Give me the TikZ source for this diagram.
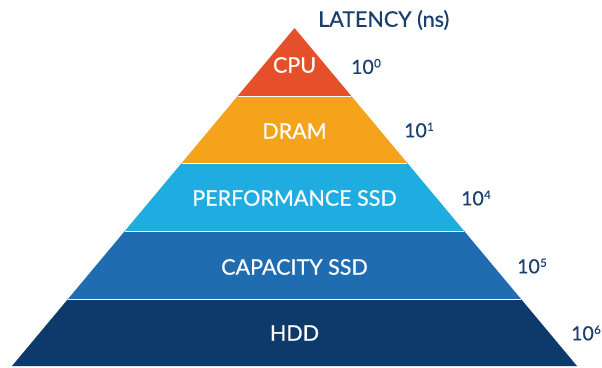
\documentclass[tikz,border=0pt]{standalone}
\usepackage{fontspec}
\setmainfont{Lato}
\newfontfamily\medfont{Lato}[FakeBold=0.5]
\definecolor{cpuC}{HTML}{E5502A}
\definecolor{dramC}{HTML}{F4A31A}
\definecolor{perfC}{HTML}{1FADE1}
\definecolor{capC}{HTML}{1F6CB0}
\definecolor{hddC}{HTML}{0E3A6B}
\definecolor{navy}{HTML}{1A3E6E}
\newcommand{\tenpow}[1]{10\kern0.3pt\raisebox{6.5pt}{\fontsize{11.5}{12}\selectfont #1}}
\begin{document}
\begin{tikzpicture}[x=1pt,y=-1pt,
  band/.style={white, font=\medfont\fontsize{21.5}{24}\selectfont, inner sep=0pt},
  lat/.style={navy, font=\medfont\fontsize{21.5}{24}\selectfont, inner sep=0pt, anchor=west},
  num/.style={navy, font=\medfont\fontsize{19.5}{22}\selectfont, inner sep=0pt, anchor=west},
  sep/.style={white, line width=0.6pt}]
\useasboundingbox (0,0) rectangle (602,367);
% apex (294.5,28), base y=366 from x=12 to 577
\def\ax{294.5}
\def\ay{28}
\def\sl{0.8358}
\pgfmathsetmacro{\la}{\ax-\sl*(96-\ay)}\pgfmathsetmacro{\ra}{\ax+\sl*(96-\ay)}
\pgfmathsetmacro{\lb}{\ax-\sl*(163-\ay)}\pgfmathsetmacro{\rb}{\ax+\sl*(163-\ay)}
\pgfmathsetmacro{\lc}{\ax-\sl*(231-\ay)}\pgfmathsetmacro{\rc}{\ax+\sl*(231-\ay)}
\pgfmathsetmacro{\ld}{\ax-\sl*(299-\ay)}\pgfmathsetmacro{\rd}{\ax+\sl*(299-\ay)}
\pgfmathsetmacro{\le}{\ax-\sl*(366-\ay)}\pgfmathsetmacro{\re}{\ax+\sl*(366-\ay)}
\fill[cpuC] (\ax,\ay) -- (\ra,96) -- (\la,96) -- cycle;
\fill[dramC] (\la,96) -- (\ra,96) -- (\rb,163) -- (\lb,163) -- cycle;
\fill[perfC] (\lb,163) -- (\rb,163) -- (\rc,231) -- (\lc,231) -- cycle;
\fill[capC] (\lc,231) -- (\rc,231) -- (\rd,299) -- (\ld,299) -- cycle;
\fill[hddC] (\ld,299) -- (\rd,299) -- (\re,366) -- (\le,366) -- cycle;
\draw[sep] (\la,96) -- (\ra,96);
\draw[sep] (\lb,163) -- (\rb,163);
\draw[sep] (\lc,231) -- (\rc,231);
\draw[sep] (\ld,299) -- (\rd,299);
\node[band] (cpu) at (294.5,65) {CPU};
\node[band] (dram) at (294.5,131) {DRAM};
\node[band] (perf) at (294.5,198) {PERFORMANCE SSD};
\node[band] (cap) at (294.5,267) {CAPACITY SSD};
\node[band] (hdd) at (294.5,333) {HDD};
\node[lat] (title) at (318,20) {LATENCY (ns)};
\node[num] (l0) at (351,66.5) {\tenpow{0}};
\node[num] (l1) at (404,130) {\tenpow{1}};
\node[num] (l4) at (461,198) {\tenpow{4}};
\node[num] (l5) at (517,266) {\tenpow{5}};
\node[num] (l6) at (571,333) {\tenpow{6}};
\end{tikzpicture}
\end{document}
